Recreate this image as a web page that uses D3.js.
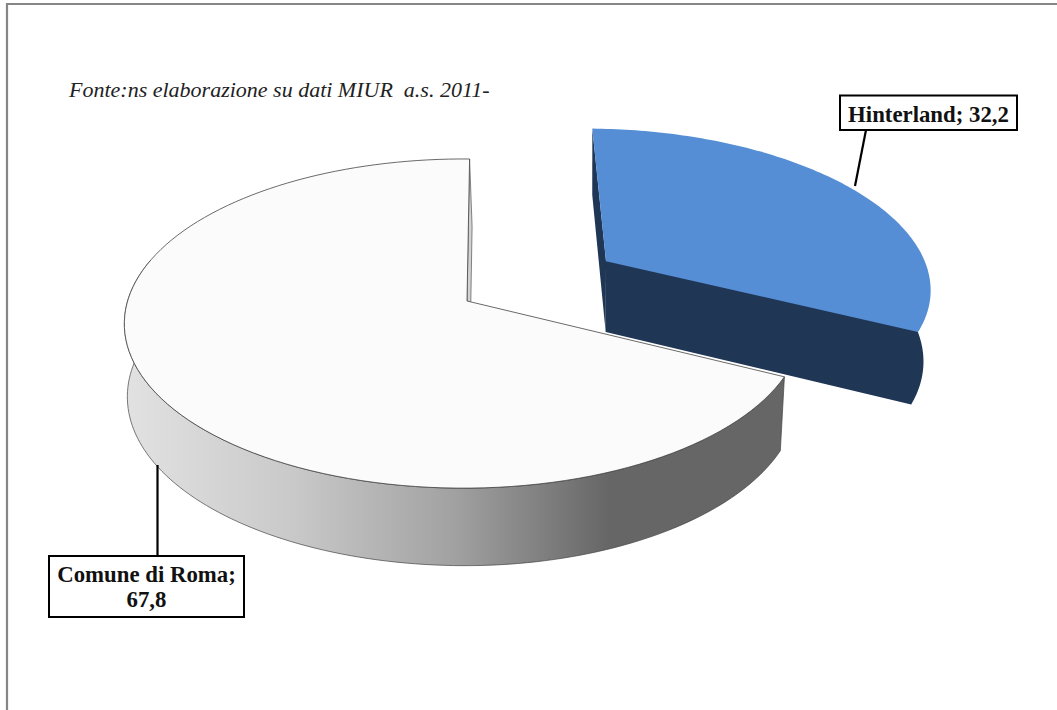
<!DOCTYPE html>
<html>
<head>
<meta charset="utf-8">
<script src="https://cdn.jsdelivr.net/npm/d3@7"></script>
<style>
    html, body { margin: 0; padding: 0; background: #fff; }
    svg { display: block; }
</style>
</head>
<body>
<svg id="chart" width="1057" height="710"></svg>
<script>
"use strict";

// values
const categories = ["Hinterland", "Comune di Roma"];
const values = [32.2, 67.8];
const labelLines = [["Hinterland; 32,2"], ["Comune di Roma;", "67,8"]];
const sourceNote = "Fonte:ns elaborazione su dati MIUR  a.s. 2011-";

const width = 1057, height = 710;

// pie plane: apex of the unexploded pie, radius, tilt and perspective
const cx = 467, cy = 301;
const radiusX = 336, radiusY = 161.5, persp = 0.137, perspX = 0.01;
const depth = 72;
const converge = 0.021, convergeX = 590, convergeMax = 3;
const explode = [0.43, 0.2557];
const startDeg = 0.5;
const wallEndDeg = 285; // the wall further round is hidden behind the top
const hSilhouette = 60; // rim sample where the Hinterland wall turns out of sight

const xScale = d3.scaleLinear().domain([-1, 1]).range([cx - radiusX, cx + radiusX]);
const yScale = d3.scaleLinear().domain([-1, 1]).range([cy + radiusY, cy - radiusY]);

// world (x, y on the disc, z 0 = top, 1 = bottom) to screen
function project(x, y, z) {
    const w = 1 + persp * y + perspX * x;
    const px = cx + (xScale(x) - cx) / w;
    const py = cy + (yScale(y) - cy) / w + z * depth / Math.sqrt(w);
    return [px + z * Math.min(convergeMax, converge * (convergeX - px)), py];
}

function rimPoints(a0, a1, off, z) {
    const n = 120;
    return d3.range(n + 1).map(i => {
        const a = a0 + (a1 - a0) * i / n;
        return project(off[0] + Math.sin(a), off[1] + Math.cos(a), z);
    });
}

const line = d3.line();
const closed = pts => line(pts) + "Z";

const svg = d3.select("#chart");

// side gradient, light on the left, dark from the front right
const defs = svg.append("defs");
const grad = defs.append("linearGradient")
    .attr("id", "romaSide")
    .attr("gradientUnits", "userSpaceOnUse")
    .attr("x1", 124).attr("x2", 780).attr("y1", 0).attr("y2", 0);
grad.append("stop").attr("offset", 0).attr("stop-color", "#e2e2e2");
grad.append("stop").attr("offset", 0.25).attr("stop-color", "#cacaca");
grad.append("stop").attr("offset", 0.5).attr("stop-color", "#a2a2a2");
grad.append("stop").attr("offset", 0.74).attr("stop-color", "#666666");
grad.append("stop").attr("offset", 1).attr("stop-color", "#666666");

// frame of the original image, top and left edges only
svg.append("path")
    .attr("d", `M7,${height}V4H${width}`)
    .attr("fill", "none")
    .attr("stroke", "#868686")
    .attr("stroke-width", 2.2);

const arcs = d3.pie().sort(null)
    .startAngle(startDeg * Math.PI / 180)
    .endAngle(startDeg * Math.PI / 180 + 2 * Math.PI)(values);

// Hinterland, exploded
const hArc = arcs[0];
const hApexTop = project(explode[0], explode[1], 0);
const hApexBot = project(explode[0], explode[1], 1);
const hDark = "#203655", hTop = "#558ed5";
const hRimTop = rimPoints(hArc.startAngle, hArc.endAngle, explode, 0);
const hRimBot = rimPoints(hArc.startAngle, hArc.endAngle, explode, 1);

// left strip
svg.append("path")
    .attr("d", closed([hRimTop[0], hApexTop, hApexBot, hRimBot[0]]))
    .attr("fill", hDark);
// front face and outer wall as one shape, so no seam shows between them
svg.append("path")
    .attr("d", closed([hApexBot]
        .concat(hRimBot.slice(hSilhouette).reverse())
        .concat([hRimTop[hSilhouette], hApexTop])))
    .attr("fill", hDark);
svg.append("path")
    .attr("d", closed([hApexTop].concat(hRimTop)))
    .attr("fill", hTop);

// Comune di Roma
const rArc = arcs[1];
const none = [0, 0];
const rApexTop = project(0, 0, 0);
const rApexBot = project(0, 0, 1);
const rRimTop = rimPoints(rArc.startAngle, rArc.endAngle, none, 0);
const rRimBot = rimPoints(rArc.startAngle, rArc.endAngle, none, 1);
const wallEnd = wallEndDeg * Math.PI / 180;
const rWallTop = rimPoints(rArc.startAngle, wallEnd, none, 0);
const rWallBot = rimPoints(rArc.startAngle, wallEnd, none, 1);

// the narrow inner wall seen beside the top edge
svg.append("path")
    .attr("d", closed([rRimTop[120], rApexTop, rApexBot, rRimBot[120]]))
    .attr("fill", "#d2d2d2")
    .attr("stroke", "#555")
    .attr("stroke-width", 0.7);
svg.append("path")
    .attr("d", closed(rWallTop.concat(rWallBot.slice().reverse())))
    .attr("fill", "url(#romaSide)")
    .attr("stroke", "#444")
    .attr("stroke-width", 0.7);
svg.append("path")
    .attr("d", closed([rApexTop].concat(rRimTop)))
    .attr("fill", "#fbfbfb")
    .attr("stroke", "#444")
    .attr("stroke-width", 0.8);

// source note
svg.append("text")
    .attr("x", 69).attr("y", 97)
    .attr("xml:space", "preserve")
    .style("white-space", "pre")
    .style("font", "italic 22px 'Liberation Serif'")
    .attr("fill", "#222")
    .text(sourceNote);

// data labels with leaders
const labelBoxes = [
    { x: 840, y: 95.5, w: 177, h: 34.5, leader: [[866, 130], [855, 186]] },
    { x: 49, y: 556, w: 195, h: 61, leader: [[157.5, 465], [157.5, 556]] }
];

labelBoxes.forEach((b, i) => {
    svg.append("path")
        .attr("d", line(b.leader))
        .attr("fill", "none")
        .attr("stroke", "#000")
        .attr("stroke-width", 2.2);
    svg.append("rect")
        .attr("x", b.x).attr("y", b.y)
        .attr("width", b.w).attr("height", b.h)
        .attr("fill", "#fff")
        .attr("stroke", "#000")
        .attr("stroke-width", 2);
    const baseline = i == 0 ? 122 : 582;
    labelLines[i].forEach((t, j) => {
        svg.append("text")
            .attr("x", b.x + b.w / 2)
            .attr("y", baseline + j * 24.5)
            .attr("text-anchor", "middle")
            .style("font", "bold 22.8px 'Liberation Serif'")
            .attr("fill", "#111")
            .text(t);
    });
});
</script>
</body>
</html>
